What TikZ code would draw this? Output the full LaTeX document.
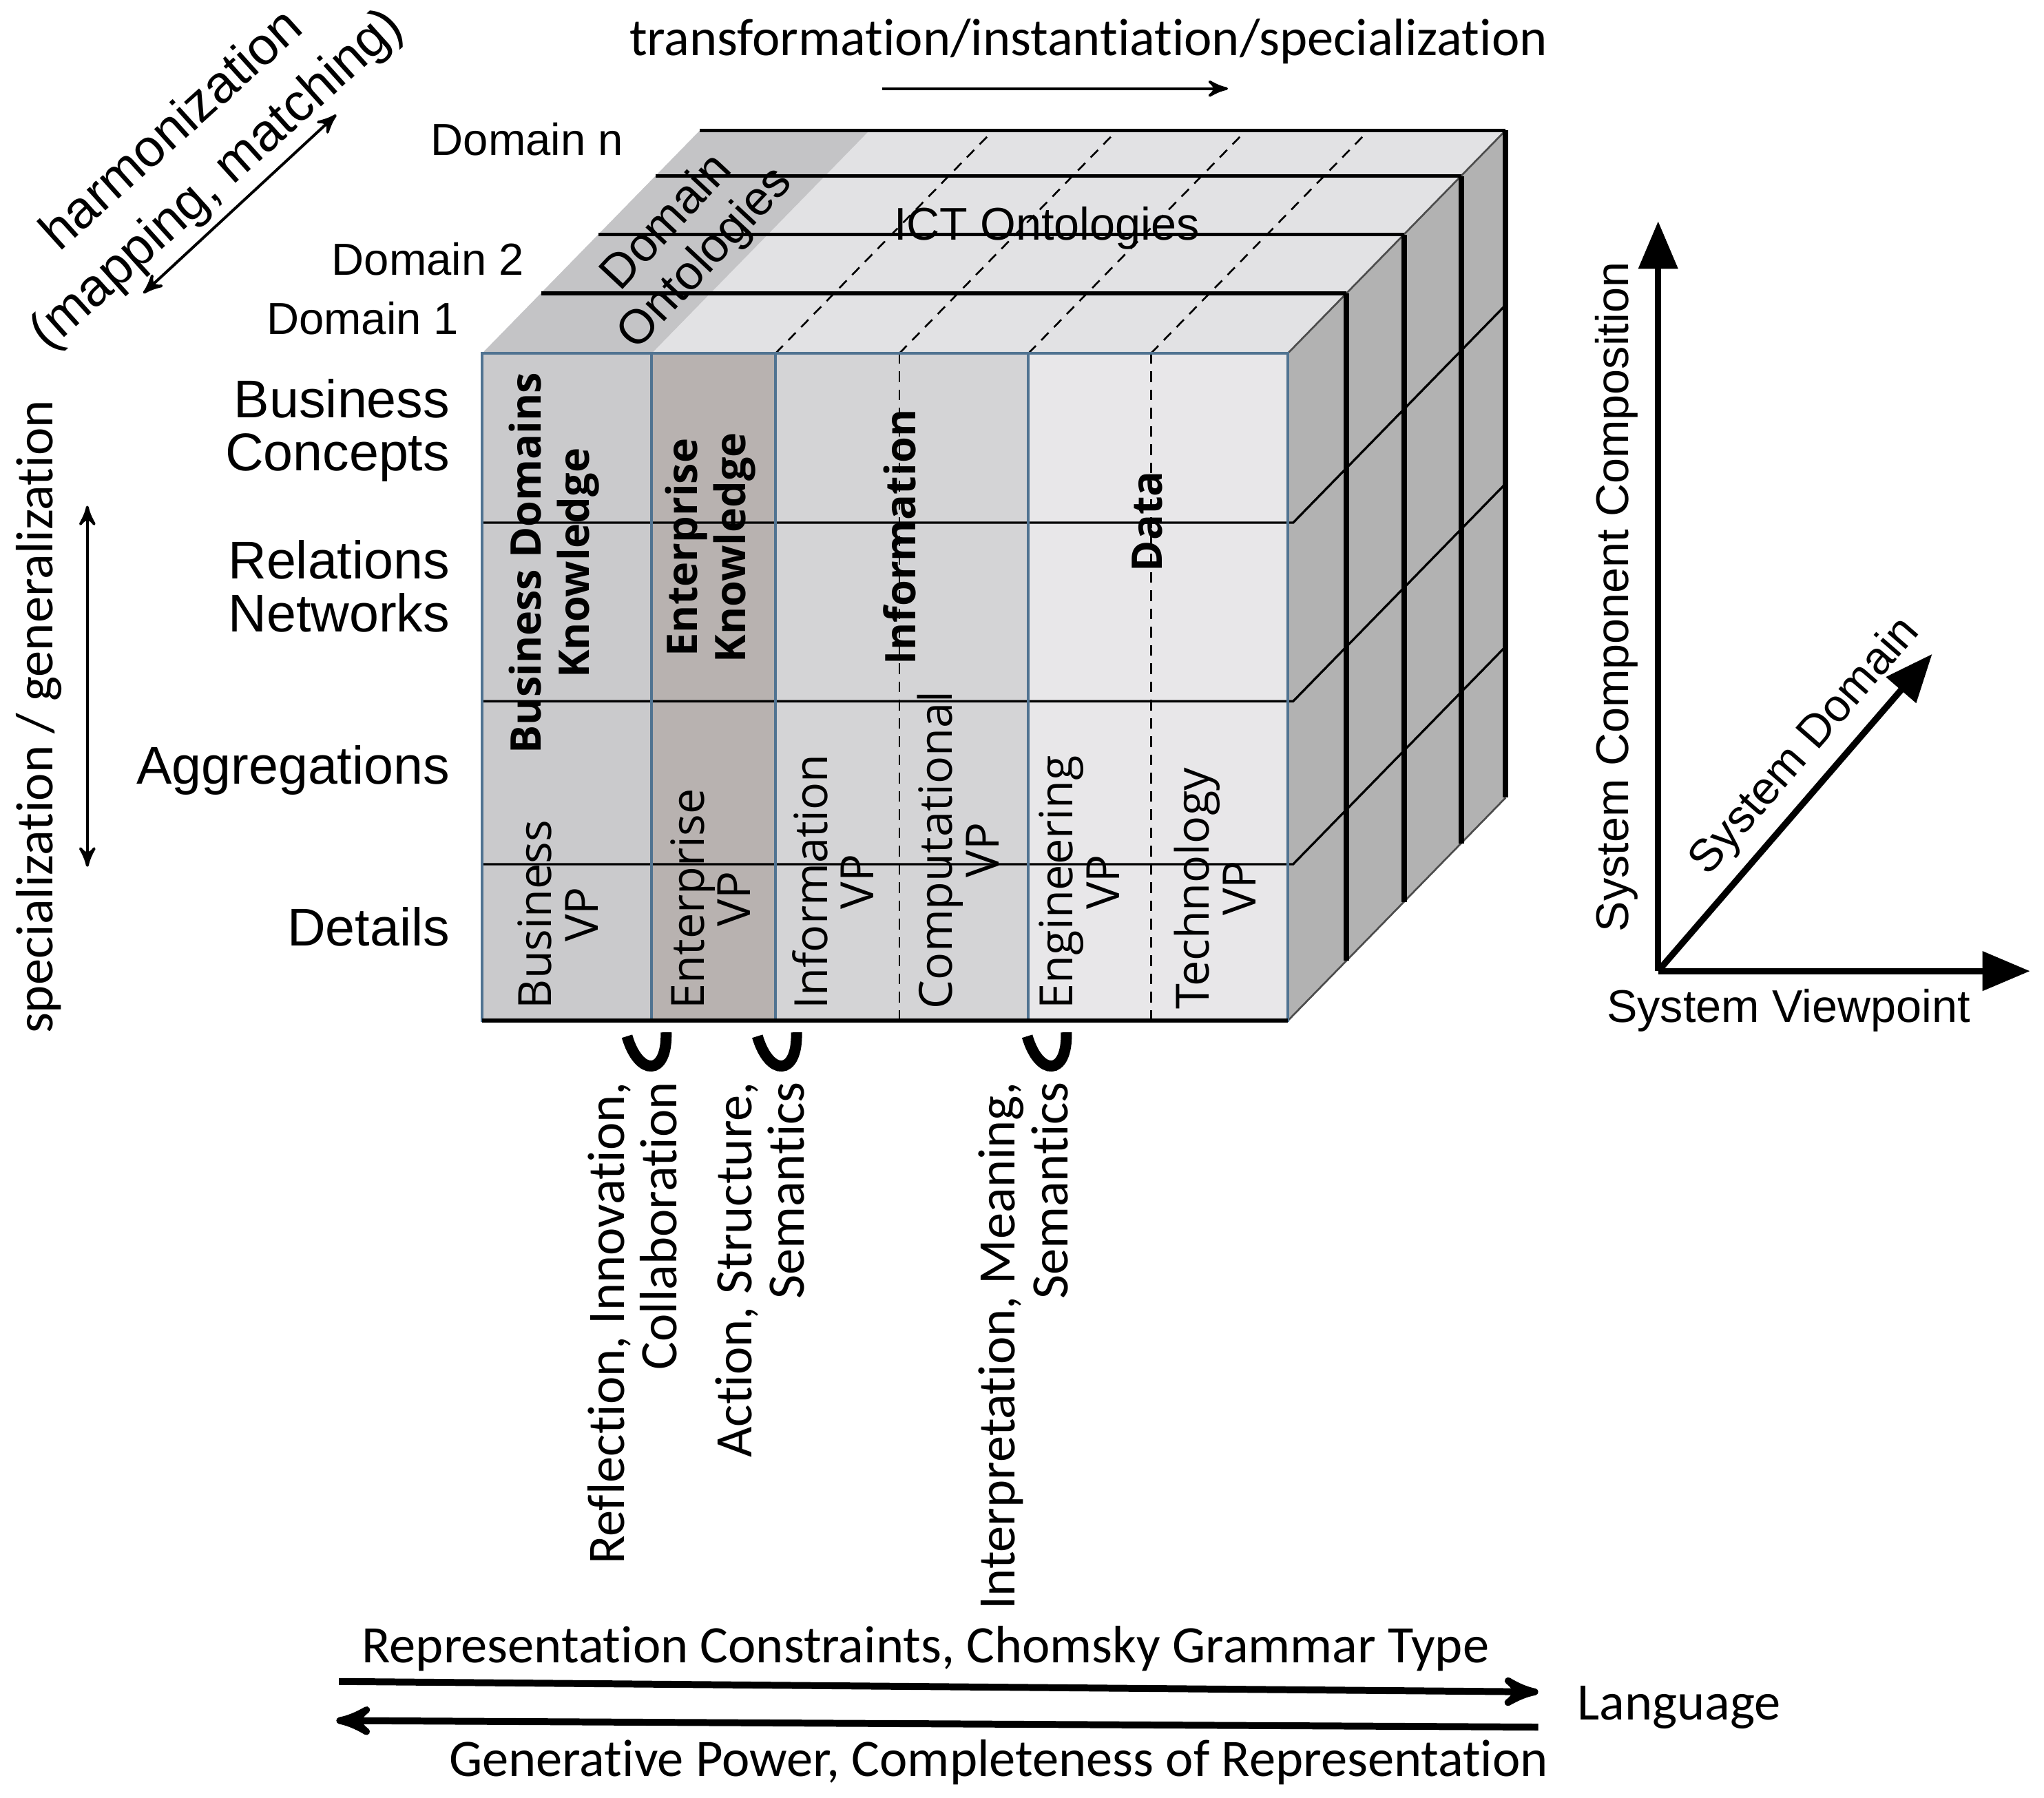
\documentclass[tikz,border=0pt]{standalone}
\usepackage{fontspec}
\setmainfont{Carlito}[Ligatures=NoCommon]
\newfontfamily\arialf{Liberation Sans}
\newfontfamily\opensf{Open Sans}
\usepackage{tikz}
\usetikzlibrary{arrows}

\definecolor{topface}{RGB}{226,226,228}
\definecolor{topstrip}{RGB}{196,196,198}
\definecolor{sideface}{RGB}{178,178,178}
\definecolor{colbus}{RGB}{202,202,204}
\definecolor{colent}{RGB}{184,178,176}
\definecolor{colinf}{RGB}{212,212,214}
\definecolor{coldat}{RGB}{232,231,233}
\definecolor{rimblue}{RGB}{80,115,145}

\begin{document}
\begin{tikzpicture}[x=0.1mm,y=-0.1mm,>=stealth',semithick]
\tikzstyle{every node}=[inner sep=0pt,outer sep=0pt]
\tikzstyle{rowlab}=[font={\arialf\fontsize{11.6}{11.6}\selectfont},align=right,anchor=east]
\tikzstyle{domlab}=[font={\arialf\fontsize{9.8}{9.8}\selectfont},anchor=east]
\tikzstyle{know}=[font={\opensf\bfseries\fontsize{9.2}{10.6}\selectfont},align=center,rotate=90]
\tikzstyle{vp}=[font={\opensf\fontsize{10}{10.2}\selectfont},align=center,rotate=90,anchor=west]
\tikzstyle{note}=[font={\fontsize{11.5}{11.5}\selectfont}]
\tikzstyle{side}=[note,rotate=90,align=right,anchor=east]
\tikzstyle{axlab}=[font={\arialf\fontsize{10}{10}\selectfont}]
\tikzstyle{rim}=[draw=rimblue,line width=0.6pt]
\tikzstyle{domline}=[line width=0.8pt]
\tikzstyle{slab}=[line width=1.2pt]
\tikzstyle{rowline}=[line width=0.5pt]
\tikzstyle{fine}=[line width=0.4pt,dash pattern=on 0.8mm off 0.6mm]
\tikzstyle{axis}=[line width=1.4pt,-triangle 45]
\tikzstyle{brace}=[line width=2.4pt]

\useasboundingbox (0,0) rectangle (1568,1379);

% faces of the cube
\fill[topface] (370,271) -- (988,271) -- (1155,100) -- (537,100) -- cycle;
\fill[topstrip] (370,271) -- (500,271) -- (667,100) -- (537,100) -- cycle;
\fill[sideface] (988,271) -- (1155,100) -- (1155,612) -- (988,783) -- cycle;
\fill[colbus] (370,271) rectangle (500,783);
\fill[colent] (500,271) rectangle (595,783);
\fill[colinf] (595,271) rectangle (789,783);
\fill[coldat] (789,271) rectangle (988,783);

% domain slabs
\draw[line width=0.4pt,gray!60!black] (988,271) -- (1155,100) (988,783) -- (1155,612);
\foreach \x in {595,690,789,883}
  \draw[fine] (\x,271) -- ++(167,-171);
\foreach \dx/\dy in {45/46,89/91,133/136,167/171}{
  \draw[domline] (370+\dx,271-\dy) -- (988+\dx,271-\dy);
  \draw[slab] (988+\dx,271-\dy) -- (988+\dx,783-\dy);
}
\foreach \y in {401,538,663}
  \draw[rowline] (370,\y) -- (992,\y) -- ++(163,-167);
\foreach \x in {690,883}
  \draw[fine] (\x,271) -- (\x,783);
\draw[rim] (370,271) rectangle (988,783);
\foreach \x in {500,595,789}
  \draw[rim] (\x,271) -- (\x,783);
\draw[line width=1pt] (370,783) -- (988,783);

% labels on and around the cube
\node[domlab] (Dn) at (478,107) {Domain n};
\node[domlab] (D2) at (402,199) {Domain 2};
\node[domlab] (D1) at (352,244) {Domain 1};
\node[font={\arialf\fontsize{10.5}{11.5}\selectfont},align=center,rotate=47] (DO) at (527,185) {Domain\\Ontologies};
\node[font={\arialf\fontsize{10}{10}\selectfont}] (ICT) at (803,175) {ICT Ontologies};

\node[rowlab] (BC) at (345,330) {Business\\Concepts};
\node[rowlab] (RN) at (345,450) {Relations\\Networks};
\node[rowlab] (AG) at (345,591) {Aggregations};
\node[rowlab] (DE) at (345,711) {Details};

\node[know] (BDK) at (425,432) {Business Domains\\Knowledge};
\node[know] (EK) at (545,420) {Enterprise\\Knowledge};
\node[know] (IN) at (690,412) {Information};
\node[know] (DA) at (880,400) {Data};

\foreach \x/\t/\n in {428/Business/bvp,545/Enterprise/evp,639/Information/ivp,
                      735/Computational/cvp,828/Engineering/gvp,932/Technology/tvp}
  \node[vp] (\n) at (\x,774) {\t\\VP};

\foreach \x in {498,598,805}
  \draw[brace] (\x-17,795) .. controls (\x-8,826) and (\x+14,826) .. (\x+13,792);
\node[side] (RIC) at (485,830) {Reflection, Innovation,\\Collaboration};
\node[side] (ASS) at (583,830) {Action, Structure,\\Semantics};
\node[side] (IMS) at (785,830) {Interpretation, Meaning,\\Semantics};

% directions
\node[note] (TR) at (835,32) {transformation/instantiation/specialization};
\coordinate (t1) at (677,68);
\coordinate (t2) at (942,68);
\path[->,line width=0.6pt] (t1) edge (t2);

\node[font={\arialf\fontsize{11.5}{14.5}\selectfont},align=center,rotate=42] (HM) at (150,120) {harmonization\\(mapping, matching)};
\coordinate (h1) at (110,225);
\coordinate (h2) at (258,88);
\path[<->,line width=0.6pt] (h1) edge (h2);

\node[note,rotate=90] (SG) at (30,550) {specialization / generalization};
\coordinate (s1) at (67,388);
\coordinate (s2) at (67,665);
\path[<->,line width=0.6pt] (s1) edge (s2);

\node[note] (RC) at (710,1265) {Representation Constraints, Chomsky Grammar Type};
\node[note] (GP) at (766,1352) {Generative Power, Completeness of Representation};
\node[note] (LA) at (1288,1310) {Language};
\coordinate (b1) at (260,1290);
\coordinate (b2) at (1180,1298);
\coordinate (b3) at (1180,1325);
\coordinate (b4) at (258,1320);
\path[->,line width=1.5pt] (b1) edge (b2)
                           (b3) edge (b4);

% axes
\coordinate (O) at (1272,745);
\coordinate (A1) at (1272,170);
\coordinate (A2) at (1557,745);
\coordinate (A3) at (1482,502);
\path[axis] (O) edge (A1)
                edge (A2)
                edge (A3);
\node[axlab,rotate=90] (SCC) at (1240,458) {System Component Composition};
\node[axlab] (SV) at (1372,775) {System Viewpoint};
\node[axlab,rotate=49] (SD) at (1385,573) {System Domain};
\end{tikzpicture}
\end{document}
